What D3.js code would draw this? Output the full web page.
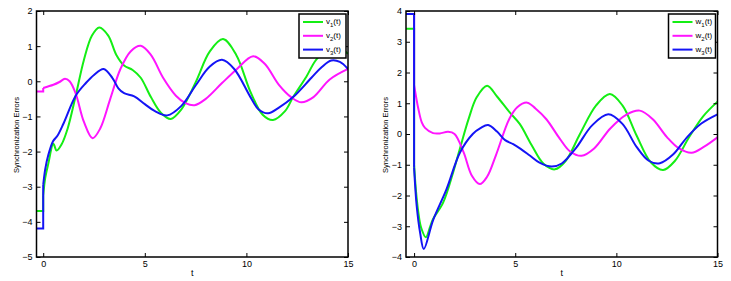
<!DOCTYPE html>
<html>
<head>
<meta charset="utf-8">
<script src="https://cdn.jsdelivr.net/npm/d3@7"></script>
<style>
  body { margin: 0; background: #fff; }
  svg { display: block; }
  text { font-family: "Liberation Sans", Arial, sans-serif; fill: #000; }
</style>
</head>
<body>
<svg id="chart" width="731" height="281"></svg>
<script>
// ---- data ----
// values held before t = 0, then the curves from t = 0 on
const v1Init = -3.69, v2Init = -0.29, v3Init = -4.19;
const v1 = [[0,-3.25],[0.1,-2.75],[0.25,-2.35],[0.5,-1.78],[0.66,-1.97],[0.9,-1.8],[1.2,-1.35],[1.6,-0.41],[2.0,0.6],[2.4,1.3],[2.76,1.53],[3.2,1.3],[3.6,0.75],[3.98,0.45],[4.4,0.32],[4.8,0.1],[5.3,-0.45],[5.8,-0.9],[6.28,-1.07],[6.8,-0.8],[7.5,-0.03],[8.2,0.85],[8.85,1.2],[9.5,0.75],[10.2,-0.3],[10.8,-0.95],[11.31,-1.1],[11.9,-0.85],[12.3,-0.45],[12.95,0.13],[13.5,0.66],[14.4,1.0],[15,0.78]];
const v2 = [[0,-0.19],[0.5,-0.1],[0.8,-0.02],[1.07,0.07],[1.3,0.0],[1.6,-0.35],[2.0,-1.15],[2.43,-1.62],[2.8,-1.35],[3.3,-0.5],[3.8,0.35],[4.3,0.85],[4.8,1.01],[5.3,0.75],[5.9,0.1],[6.53,-0.41],[7.0,-0.62],[7.45,-0.68],[8.0,-0.5],[8.8,-0.05],[9.5,0.33],[10.33,0.71],[10.9,0.5],[11.6,-0.1],[12.2,-0.45],[12.71,-0.6],[13.3,-0.45],[14.1,0.05],[15,0.35]];
const v3 = [[0,-2.95],[0.1,-2.5],[0.25,-2.1],[0.49,-1.7],[0.7,-1.55],[1.0,-1.2],[1.6,-0.41],[2.1,-0.05],[2.5,0.18],[2.97,0.35],[3.4,0.1],[3.7,-0.2],[3.98,-0.34],[4.48,-0.43],[5.0,-0.65],[5.5,-0.85],[6.1,-0.97],[6.8,-0.7],[7.5,-0.12],[8.2,0.42],[8.8,0.61],[9.4,0.35],[10.2,-0.45],[10.6,-0.8],[11.07,-0.91],[11.6,-0.75],[12.3,-0.45],[13.2,0.1],[13.7,0.4],[14.18,0.59],[14.6,0.55],[15,0.35]];

const w1Init = 3.42, w2Init = 3.9, w3Init = 3.9;
const w1 = [[0,-1.0],[0.1,-1.9],[0.2,-2.5],[0.35,-3.05],[0.58,-3.36],[0.8,-3.0],[0.94,-2.76],[1.43,-2.24],[1.93,-1.25],[2.26,-0.49],[2.7,0.5],[3.1,1.2],[3.61,1.57],[4.1,1.22],[4.73,0.7],[5.23,0.32],[5.8,-0.35],[6.4,-0.97],[6.96,-1.15],[7.5,-0.87],[8.2,0.0],[9.0,0.93],[9.68,1.3],[10.3,0.93],[11.0,-0.05],[11.7,-0.92],[12.31,-1.17],[12.9,-0.87],[13.6,-0.1],[14.3,0.58],[15,1.05]];
const w2 = [[0,1.6],[0.21,0.82],[0.38,0.38],[0.54,0.2],[0.94,0.03],[1.27,0.02],[1.68,0.07],[2.0,0.0],[2.45,-0.6],[2.85,-1.35],[3.25,-1.63],[3.6,-1.4],[4.04,-0.7],[4.7,0.48],[5.1,0.87],[5.59,1.02],[6.0,0.83],[6.54,0.48],[7.2,-0.15],[7.7,-0.56],[8.28,-0.71],[8.9,-0.47],[9.7,0.18],[10.5,0.63],[11.16,0.76],[11.8,0.48],[12.5,-0.1],[13.1,-0.47],[13.72,-0.61],[14.3,-0.43],[15,-0.11]];
const w3 = [[0,-1.1],[0.13,-2.35],[0.3,-3.22],[0.48,-3.74],[0.94,-2.8],[1.6,-1.8],[2.27,-0.6],[2.9,0.0],[3.3,0.2],[3.66,0.29],[4.1,0.08],[4.5,-0.2],[4.9,-0.33],[5.3,-0.5],[5.72,-0.7],[6.2,-0.93],[6.8,-1.06],[7.3,-0.96],[8.0,-0.46],[8.8,0.28],[9.6,0.64],[10.3,0.33],[11.0,-0.42],[11.6,-0.87],[12.15,-0.95],[12.8,-0.67],[13.5,-0.1],[14.2,0.34],[15,0.64]];

const xTicks = [0, 5, 10, 15];
const leftYTicks = [-5, -4, -3, -2, -1, 0, 1, 2];
const rightYTicks = [-4, -3, -2, -1, 0, 1, 2, 3, 4];
const leftNames = ["v", "v", "v"];
const rightNames = ["w", "w", "w"];
const colors = ["#14ee14", "#ff14ff", "#1414f5"];

const svg = d3.select("#chart");

function drawPanel(cfg) {
  const x = d3.scaleLinear().domain(cfg.xDomain).range([cfg.left, cfg.right]);
  const y = d3.scaleLinear().domain(cfg.yDomain).range([cfg.bottom, cfg.top]);
  const g = svg.append("g");

  const clipId = "clip" + cfg.id;
  svg.append("clipPath").attr("id", clipId).append("rect")
    .attr("x", cfg.left).attr("y", cfg.top)
    .attr("width", cfg.right - cfg.left).attr("height", cfg.bottom - cfg.top);

  const lines = g.append("g").attr("clip-path", "url(#" + clipId + ")");
  const straight = d3.line().x(d => x(d[0])).y(d => y(d[1]));
  const smooth = d3.line().x(d => x(d[0])).y(d => y(d[1])).curve(d3.curveCatmullRom.alpha(0.5));

  cfg.series.forEach((s, i) => {
    // flat part before t=0 and the jump at t=0
    lines.append("path")
      .attr("d", straight([[cfg.xDomain[0], s.init], [0, s.init], s.pts[0]]))
      .attr("fill", "none").attr("stroke", colors[i]).attr("stroke-width", 2);
    lines.append("path")
      .attr("d", smooth(s.pts))
      .attr("fill", "none").attr("stroke", colors[i]).attr("stroke-width", 2)
      .attr("stroke-linejoin", "round");
  });

  // axes, ticks inside on all four sides
  const fmt = d3.format("d");
  const ax = g.append("g").attr("transform", "translate(0," + cfg.bottom + ")")
    .call(d3.axisBottom(x).tickValues(xTicks).tickFormat(fmt).tickSizeInner(-4).tickSizeOuter(0).tickPadding(4));
  const ay = g.append("g").attr("transform", "translate(" + cfg.left + ",0)")
    .call(d3.axisLeft(y).tickValues(cfg.yTicks).tickFormat(fmt).tickSizeInner(-4).tickSizeOuter(0).tickPadding(4));
  const at = g.append("g").attr("transform", "translate(0," + cfg.top + ")")
    .call(d3.axisTop(x).tickValues(xTicks).tickFormat("").tickSizeInner(-4).tickSizeOuter(0));
  const ar = g.append("g").attr("transform", "translate(" + cfg.right + ",0)")
    .call(d3.axisRight(y).tickValues(cfg.yTicks).tickFormat("").tickSizeInner(-4).tickSizeOuter(0));
  [ax, ay, at, ar].forEach(a => {
    a.select(".domain").remove();
    a.selectAll("line").attr("stroke", "#000").attr("stroke-width", 1);
    a.selectAll("text").attr("font-size", 9).attr("fill", "#000")
      .style("font-family", "'Liberation Sans', Arial, sans-serif");
  });

  g.append("rect")
    .attr("x", cfg.left).attr("y", cfg.top)
    .attr("width", cfg.right - cfg.left).attr("height", cfg.bottom - cfg.top)
    .attr("fill", "none").attr("stroke", "#000").attr("stroke-width", 1.5);

  g.append("text")
    .attr("x", (cfg.left + cfg.right) / 2).attr("y", 276)
    .attr("text-anchor", "middle").attr("font-size", 9).text("t");

  g.append("text")
    .attr("transform", "translate(" + cfg.ylabX + ",135) rotate(-90)")
    .attr("text-anchor", "middle").attr("dy", "0.35em")
    .attr("font-size", 7.5).text("Synchronization Errors");

  // legend
  const lg = g.append("g");
  lg.append("rect")
    .attr("x", cfg.right - 49).attr("y", 14).attr("width", 47).attr("height", 44)
    .attr("fill", "#fff").attr("stroke", "#000").attr("stroke-width", 1.5);
  cfg.names.forEach((n, i) => {
    const ly = 22 + i * 13.8;
    lg.append("line")
      .attr("x1", cfg.right - 45).attr("x2", cfg.right - 25)
      .attr("y1", ly).attr("y2", ly)
      .attr("stroke", colors[i]).attr("stroke-width", 2);
    const t = lg.append("text")
      .attr("x", cfg.right - 22).attr("y", ly + 2).attr("font-size", 8);
    t.append("tspan").text(n);
    t.append("tspan").attr("font-size", 6).attr("dy", 3).text(i + 1);
    t.append("tspan").attr("dy", -3).text("(t)");
  });
}

drawPanel({
  id: "L", left: 36.5, right: 348, top: 11, bottom: 257,
  xDomain: [-0.33, 15], yDomain: [-5, 2], yTicks: leftYTicks, ylabX: 16,
  names: leftNames,
  series: [{ init: v1Init, pts: v1 }, { init: v2Init, pts: v2 }, { init: v3Init, pts: v3 }]
});

drawPanel({
  id: "R", left: 406, right: 717.5, top: 11, bottom: 257,
  xDomain: [-0.4, 15], yDomain: [-4, 4], yTicks: rightYTicks, ylabX: 385,
  names: rightNames,
  series: [{ init: w1Init, pts: w1 }, { init: w2Init, pts: w2 }, { init: w3Init, pts: w3 }]
});
</script>
</body>
</html>
